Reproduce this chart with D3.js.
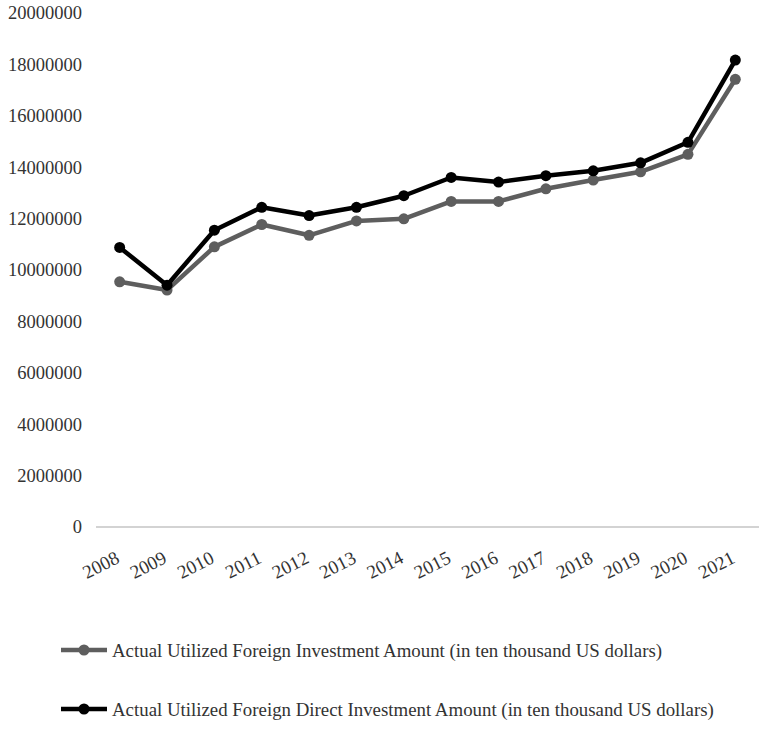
<!DOCTYPE html>
<html>
<head>
<meta charset="utf-8">
<script src="https://cdnjs.cloudflare.com/ajax/libs/d3/7.8.5/d3.min.js"></script>
<style>
  html, body { margin: 0; padding: 0; background: #fff; }
  svg { display: block; }
</style>
</head>
<body>
<div id="chart"></div>
<script>
// données
const years = ['2008', '2009', '2010', '2011', '2012', '2013', '2014',
               '2015', '2016', '2017', '2018', '2019', '2020', '2021'];
const fiTotal = [9540000, 9220000, 10900000, 11770000, 11350000, 11910000, 11990000,
                 12670000, 12670000, 13160000, 13500000, 13820000, 14500000, 17420000];
const fdiTotal = [10880000, 9410000, 11550000, 12440000, 12120000, 12440000, 12890000,
                  13600000, 13420000, 13670000, 13860000, 14170000, 14970000, 18170000];
const yTicks = [0, 2000000, 4000000, 6000000, 8000000, 10000000, 12000000,
                14000000, 16000000, 18000000, 20000000];
const seriesNames = [
  'Actual Utilized Foreign Investment Amount (in ten thousand US dollars)',
  'Actual Utilized Foreign Direct Investment Amount (in ten thousand US dollars)'
];
const seriesColors = ['#5e5e5e', '#000000'];

const W = 764, H = 745;
const FONT = '"Liberation Serif", "Times New Roman", serif';
const m = { top: 13, left: 96, right: 5, bottom: 218 };

const svg = d3.select('#chart').append('svg')
  .attr('width', W).attr('height', H);

const x = d3.scaleBand().domain(years).range([m.left, W - m.right]);
const y = d3.scaleLinear().domain([0, 20000000]).range([527, m.top]);

// axe Y : libellés seuls
svg.append('g')
  .selectAll('text')
  .data(yTicks)
  .enter().append('text')
  .attr('x', 82)
  .attr('y', d => y(d))
  .attr('dy', '0.35em')
  .attr('text-anchor', 'end')
  .attr('font-family', FONT)
  .attr('font-size', 18.5)
  .attr('fill', '#333')
  .text(d => d);

// axe X
svg.append('line')
  .attr('x1', x.range()[0]).attr('x2', x.range()[1])
  .attr('y1', y(0)).attr('y2', y(0))
  .attr('stroke', '#c4c4c4')
  .attr('stroke-width', 1.5);

svg.append('g')
  .selectAll('text')
  .data(years)
  .enter().append('text')
  .attr('transform', d => `translate(${x(d) + x.bandwidth() / 2 + 1},562) rotate(-27)`)
  .attr('text-anchor', 'end')
  .attr('font-family', FONT)
  .attr('font-size', 19)
  .attr('fill', '#333')
  .text(d => d);

// séries
const series = [fiTotal, fdiTotal];
const cx = (d, i) => x(years[i]) + x.bandwidth() / 2;
const line = d3.line().x(cx).y(d => y(d));

series.forEach((vals, k) => {
  const g = svg.append('g');
  g.append('path')
    .datum(vals)
    .attr('d', line)
    .attr('fill', 'none')
    .attr('stroke', seriesColors[k])
    .attr('stroke-width', 4.5)
    .attr('stroke-linejoin', 'round');
  g.selectAll('circle')
    .data(vals)
    .enter().append('circle')
    .attr('cx', cx)
    .attr('cy', d => y(d))
    .attr('r', 5.5)
    .attr('fill', seriesColors[k]);
});

// légende
const legY = [650, 709];
seriesNames.forEach((name, k) => {
  const g = svg.append('g').attr('transform', `translate(0,${legY[k]})`);
  g.append('line')
    .attr('x1', 61).attr('x2', 107)
    .attr('stroke', seriesColors[k])
    .attr('stroke-width', 4.5);
  g.append('circle')
    .attr('cx', 84).attr('r', 5.5)
    .attr('fill', seriesColors[k]);
  g.append('text')
    .attr('x', 112)
    .attr('dy', '0.35em')
    .attr('font-family', FONT)
    .attr('font-size', 18.85)
    .attr('fill', '#333')
    .text(name);
});
</script>
</body>
</html>
